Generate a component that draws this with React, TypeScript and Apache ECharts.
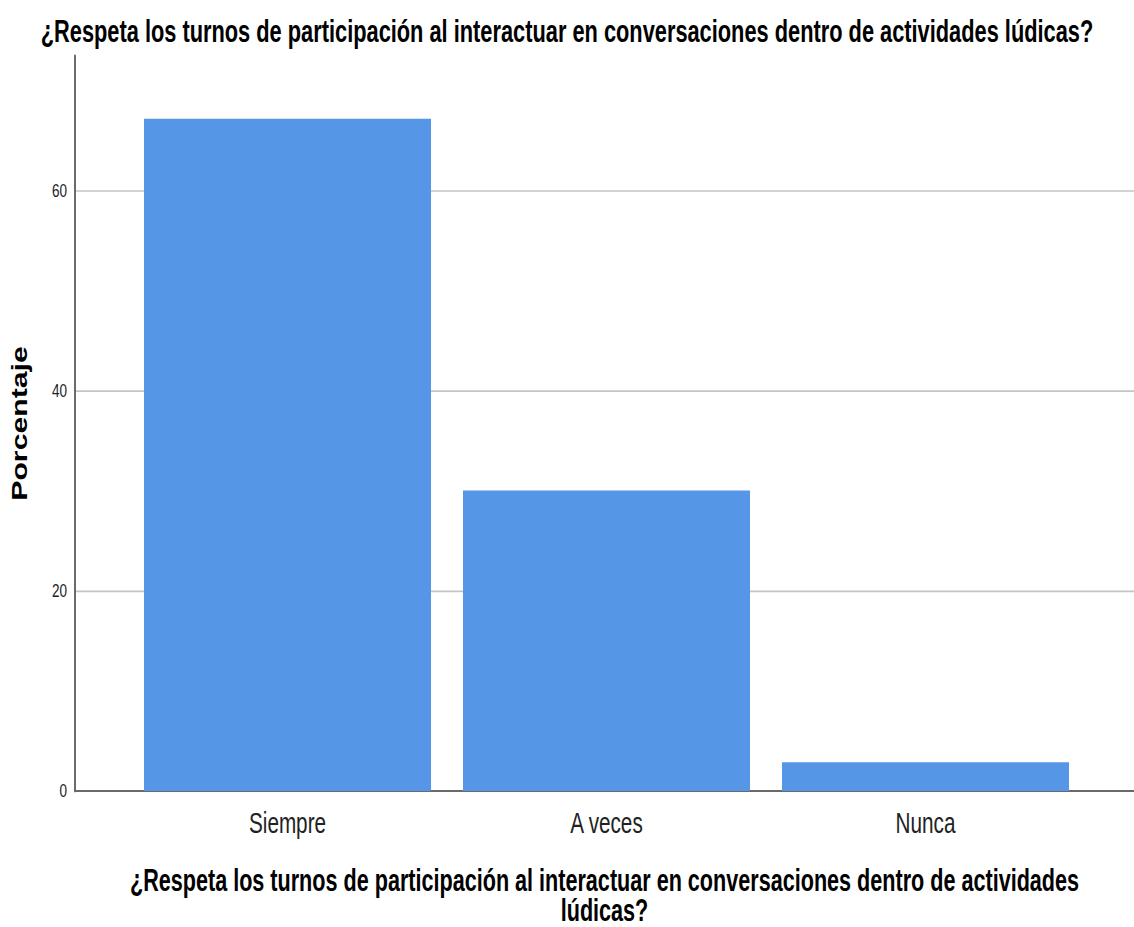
import React, { useEffect, useRef } from "react";
import * as echarts from "echarts";

const categories = ["Siempre", "A veces", "Nunca"];
const percentages = [67.14, 30.0, 2.86];
const titleText =
  "¿Respeta los turnos de participación al interactuar en conversaciones dentro de actividades lúdicas?";
const xAxisTitle =
  "¿Respeta los turnos de participación al interactuar en conversaciones dentro de actividades\nlúdicas?";
const yAxisTitle = "Porcentaje";

const STRETCH = 1.42;
const W = 1134;
const H = 927 / STRETCH;
const FONT = "'Liberation Sans', Arial, sans-serif";
const GRID_TOP = 56 / STRETCH;
const GRID_BOTTOM = H - 790.7 / STRETCH;

export default function App() {
  const ref = useRef<HTMLDivElement>(null);
  useEffect(() => {
    if (!ref.current) return;
    const chart = echarts.init(ref.current, undefined, { renderer: "svg" });
    chart.setOption({
      animation: false,
      backgroundColor: "#ffffff",
      title: {
        text: titleText,
        left: "center",
        top: 6,
        textStyle: { fontFamily: FONT, fontWeight: "bold", fontSize: 21.8, color: "#000" },
      },
      grid: [
        { left: 75, right: 0, top: GRID_TOP, bottom: GRID_BOTTOM, containLabel: false, outerBoundsMode: "none" },
        { left: 128, right: 49, top: GRID_TOP, bottom: GRID_BOTTOM, containLabel: false, outerBoundsMode: "none" },
      ],
      xAxis: [
        {
          gridIndex: 0,
          type: "category",
          data: categories,
          axisLine: { show: true, lineStyle: { color: "#6a6a6a", width: 1.5 } },
          axisTick: { show: false },
          axisLabel: { show: false },
          splitLine: { show: false },
          name: xAxisTitle,
          nameLocation: "middle",
          nameGap: 52,
          nameTextStyle: {
            fontFamily: FONT,
            fontWeight: "bold",
            fontSize: 21.6,
            lineHeight: 21.6,
            color: "#000",
            align: "center",
          },
        },
        {
          gridIndex: 1,
          type: "category",
          data: categories,
          axisLine: { show: false },
          axisTick: { show: false },
          axisLabel: { fontFamily: FONT, fontSize: 20.7, color: "#222", margin: 12 },
        },
      ],
      yAxis: [
        {
          gridIndex: 0,
          type: "value",
          min: 0,
          max: 73.4,
          interval: 20,
          axisLine: { show: true, lineStyle: { color: "#6a6a6a", width: 2 } },
          axisTick: { show: false },
          axisLabel: {
            fontFamily: FONT,
            fontSize: 13.5,
            color: "#222",
            margin: 8,
            showMaxLabel: false,
          },
          splitLine: {
            show: true,
            showMaxLine: false,
            showMinLine: false,
            lineStyle: { color: "#c4c4c4", width: 1.2 },
          },
          name: yAxisTitle,
          nameLocation: "middle",
          nameGap: 45,
          nameTextStyle: { fontFamily: FONT, fontWeight: "bold", fontSize: 21.3, color: "#000" },
        },
        { gridIndex: 1, type: "value", min: 0, max: 73.4, show: false },
      ],
      series: [
        {
          type: "bar",
          xAxisIndex: 1,
          yAxisIndex: 1,
          data: percentages,
          barWidth: 287,
          itemStyle: { color: "#5596e6" },
        },
      ],
    });
    return () => chart.dispose();
  }, []);
  return (
    <div
      ref={ref}
      style={{
        position: "absolute",
        left: 0,
        top: 0,
        width: W,
        height: H,
        transform: `scaleY(${STRETCH})`,
        transformOrigin: "0 0",
      }}
    />
  );
}
